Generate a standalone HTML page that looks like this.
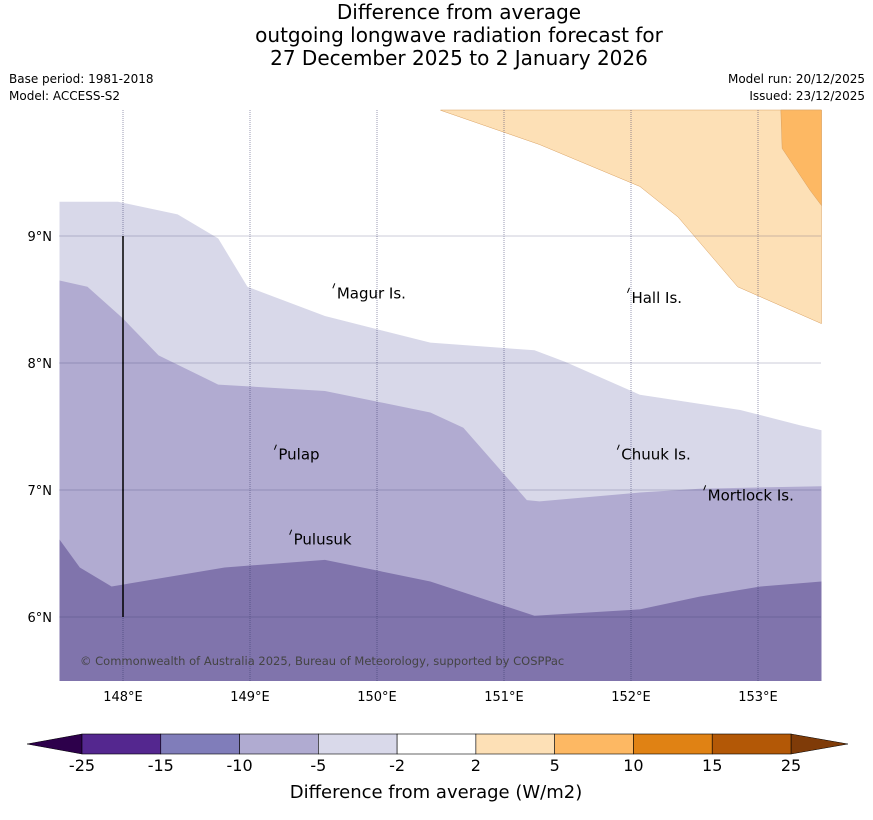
<!DOCTYPE html>
<html><head><meta charset="utf-8"><style>
body{margin:0;background:#fff;font-family:"DejaVu Sans","Liberation Sans",sans-serif}
svg text{font-family:"DejaVu Sans","Liberation Sans",sans-serif}
</style></head><body>
<svg id="c" width="873" height="816" xmlns="http://www.w3.org/2000/svg">
<text x="459" y="19" font-size="20" text-anchor="middle">Difference from average</text>
<text x="459" y="42" font-size="20" text-anchor="middle">outgoing longwave radiation forecast for</text>
<text x="459" y="65" font-size="20" text-anchor="middle">27 December 2025 to 2 January 2026</text>
<text x="9" y="83" font-size="12">Base period: 1981-2018</text>
<text x="9" y="100" font-size="12">Model: ACCESS-S2</text>
<text x="865" y="83" font-size="12" text-anchor="end">Model run: 20/12/2025</text>
<text x="865" y="100" font-size="12" text-anchor="end">Issued: 23/12/2025</text>
<g id="map"></g>
<g id="cbar"></g>
<text x="436" y="798" font-size="18" text-anchor="middle">Difference from average (W/m2)</text>
</svg>
<script>
const lonTicks=[148,149,150,151,152,153];
const latTicks=[6,7,8,9];
const bound5Lon=[147.5,147.96,148.43,148.75,148.98,149.59,150.42,151.24,151.48,152.07,152.86,153.33,153.5];
const bound5Lat=[9.27,9.27,9.17,8.98,8.60,8.37,8.16,8.10,8.01,7.75,7.63,7.51,7.47];
const bound10Lon=[147.5,147.72,148,148.28,148.75,149.59,150.42,150.68,151.18,151.28,152.07,152.54,153.5];
const bound10Lat=[8.65,8.60,8.35,8.06,7.83,7.78,7.61,7.49,6.92,6.91,6.98,7.01,7.03];
const bound15Lon=[147.5,147.66,147.91,148.8,149.59,150.42,151.24,152.07,152.54,153.02,153.5];
const bound15Lat=[6.61,6.39,6.24,6.39,6.45,6.28,6.01,6.06,6.16,6.24,6.28];
const pos2Lon=[150.5,151.28,152.07,152.37,152.84,153.5];
const pos2Lat=[9.99,9.72,9.39,9.15,8.6,8.31];
const pos5Lon=[153.18,153.19,153.41,153.5];
const pos5Lat=[9.99,9.69,9.36,9.24];
const islandNames=["Magur Is.","Hall Is.","Pulap","Chuuk Is.","Mortlock Is.","Pulusuk"];
const islandLon=[149.66,151.98,149.2,151.9,152.58,149.32];
const islandLat=[8.58,8.545,7.31,7.31,6.99,6.64];
const cbLevels=["-25","-15","-10","-5","-2","2","5","10","15","25"];
const cbColors=["#54278f","#807dba","#b0abd1","#d9d9ea","#ffffff","#fde0b6","#fdb863","#e08214","#b35806"];
const X0=59.5,Y0=110,W=762,H=571,PX=127;
const sx=l=>123+(l-148)*PX, sy=a=>236-(a-9)*PX;
const NS="http://www.w3.org/2000/svg";
const map=document.getElementById('map');
function mk(t,a,p){const e=document.createElementNS(NS,t);for(const k in a)e.setAttribute(k,a[k]);(p||map).appendChild(e);return e;}
function band(lons,lats,color,name){
 let d='M'+sx(lons[0])+','+sy(lats[0]);
 for(let i=1;i<lons.length;i++)d+=' L'+sx(lons[i])+','+sy(lats[i]);
 d+=` L${X0+W},${Y0+H} L${X0},${Y0+H} Z`;
 const p=mk('path',{d:d,fill:color});
 
 
}
band(bound5Lon,bound5Lat,'#d8d8e9','contour-minus5');
band(bound10Lon,bound10Lat,'#b1abd1','contour-minus10');
band(bound15Lon,bound15Lat,'#8074ac','contour-minus15');
function topband(lons,lats,color,name){
 let d=`M${sx(lons[0])},${Y0}`;
 for(let i=0;i<lons.length;i++)d+=' L'+sx(lons[i])+','+sy(lats[i]);
 d+=` L${X0+W},${Y0} Z`;
 const p=mk('path',{d:d,fill:color,stroke:'#d9a060','stroke-width':0.5});
 
 
}
topband(pos2Lon,pos2Lat,'#fde0b6','contour-plus2');
topband(pos5Lon,pos5Lat,'#fdb863','contour-plus5');
lonTicks.forEach(l=>{
 const g=mk('line',{x1:sx(l),x2:sx(l),y1:Y0,y2:Y0+H,stroke:'#336',"stroke-width":0.5,"stroke-dasharray":"1,1"});
 
 
 const t=mk('text',{x:sx(l),y:701,"font-size":13,"text-anchor":"middle"});t.textContent=l+'°E';
 
 
});
latTicks.forEach(a=>{
 const g=mk('line',{x1:X0,x2:X0+W,y1:sy(a),y2:sy(a),stroke:'#336',"stroke-width":0.5,"stroke-dasharray":"1,1"});
 
 
 const t=mk('text',{x:52,y:sy(a)+5,"font-size":13,"text-anchor":"end"});t.textContent=a+'°N';
 
 
});
const vl=mk('line',{x1:sx(148),x2:sx(148),y1:sy(9),y2:sy(6),stroke:'#000',"stroke-width":1.5});


islandNames.forEach((n,i)=>{
 const x=sx(islandLon[i]),y=sy(islandLat[i]);
 const m=mk('path',{d:`M${x-1},${y-1} L${x+1},${y-6}`,stroke:'#000',"stroke-width":1,fill:'none'});
 
 
 const t=mk('text',{x:x+3,y:y+9,"font-size":15});t.textContent=n;
 
 
});
const cp=mk('text',{x:80,y:665,"font-size":11.5,fill:'#444'});
cp.textContent='© Commonwealth of Australia 2025, Bureau of Meteorology, supported by COSPPac';


const cb=document.getElementById('cbar');
const cx0=82,cx1=791,cy=734,ch=20,bw=(cx1-cx0)/cbColors.length;
const lt=mk('polygon',{points:`${cx0},${cy} ${cx0},${cy+ch} 27,${cy+ch/2}`,fill:'#2d004b',stroke:'#000',"stroke-width":0.5},cb);


const rt=mk('polygon',{points:`${cx1},${cy} ${cx1},${cy+ch} 848,${cy+ch/2}`,fill:'#7f3b08',stroke:'#000',"stroke-width":0.5},cb);


cbColors.forEach((c,i)=>{
 const r=mk('rect',{x:cx0+i*bw,y:cy,width:bw,height:ch,fill:c,stroke:'#000',"stroke-width":0.6},cb);
 
 
});
cbLevels.forEach((v,i)=>{
 const t=mk('text',{x:cx0+i*bw,y:771,"font-size":16,"text-anchor":"middle"},cb);t.textContent=v;
 
 
});
</script>
</body></html>
